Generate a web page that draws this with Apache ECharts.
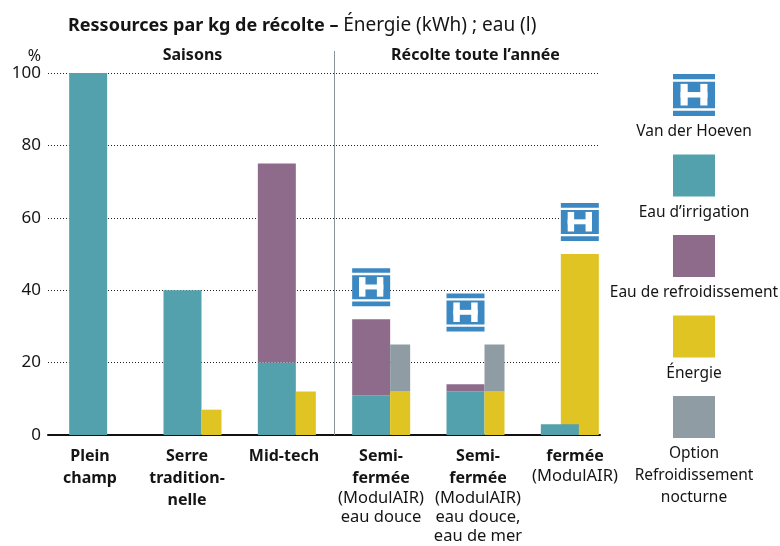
<!DOCTYPE html>
<html>
<head>
<meta charset="utf-8">
<script src="https://cdn.jsdelivr.net/npm/echarts@6/dist/echarts.min.js"></script>
<style>
  html, body { margin: 0; padding: 0; background: #fff; }
  #chart { width: 780px; height: 546px; }
</style>
</head>
<body>
<div id="chart"></div>
<script>
var chart = echarts.init(document.getElementById('chart'));

// catégories (axe X)
var categories = [
    'Plein\nchamp',
    'Serre\ntradition-\nnelle',
    'Mid-tech',
    'Semi-\nfermée\n(ModulAIR)\neau douce',
    'Semi-\nfermée\n(ModulAIR)\neau douce,\neau de mer',
    'fermée\n(ModulAIR)'
];

// valeurs en %
var irrigation = [100, 40, 20, 11, 12, 3];
var refroidissement = [0, 0, 55, 21, 2, 0];
var energie = [0, 7, 12, 12, 12, 50];
var nocturne = [0, 0, 0, 13, 13, 0];

var yMin = 0, yMax = 100, yStep = 20;

var sections = [
    { name: 'Saisons', from: 0, to: 2 },
    { name: 'Récolte toute l’année', from: 3, to: 5 }
];

// logos Van der Hoeven au-dessus de ces catégories
var logoCats = [3, 4, 5];
// catégorie où la barre énergie est large
var wideEnergyCat = 5;

var legendNames = ['Van der Hoeven', 'Eau d’irrigation', 'Eau de refroidissement', 'Énergie', 'Option\nRefroidissement\nnocturne'];

var colors = {
    teal: '#53a1ad',
    purple: '#8e6b8a',
    yellow: '#e0c424',
    grey: '#8f9ca4',
    blue: '#3b88c2',
    text: '#151515'
};
var legendColors = [null, colors.teal, colors.purple, colors.yellow, colors.grey];

var font = 'Noto Sans';

function xLabel(value) {
    var normal = false;
    return value.split('\n').map(function (l) {
        if (l.charAt(0) === '(') normal = true;
        return (normal ? '{n|' : '{b|') + l + '}';
    }).join('\n');
}

var option = {
    animation: false,
    textStyle: { fontFamily: font, color: colors.text },
    title: {
        text: '{b|Ressources par kg de récolte –} {n|Énergie (kWh) ; eau (l)}',
        left: 63,
        top: 11,
        textStyle: {
            fontWeight: 'normal',
            rich: {
                b: { fontFamily: font, fontWeight: 'bold', fontSize: 18, color: colors.text },
                n: { fontFamily: font, fontWeight: 'normal', fontSize: 19, color: colors.text }
            }
        }
    },
    grid: [
        // grille pour les lignes pointillées
        { left: 48, right: 180, top: 73, bottom: 111 },
        // grille pour les barres
        { left: 51, right: 163, top: 73, bottom: 111 },
        // grille pour les étiquettes de l'axe X
        { left: 41.5, right: 156.5, top: 73, bottom: 111 }
    ],
    xAxis: [
        {
            gridIndex: 0, type: 'value', min: 0, max: 1,
            axisLine: { show: true, lineStyle: { color: '#111', width: 2 } },
            axisTick: { show: false }, axisLabel: { show: false }, splitLine: { show: false }
        },
        {
            gridIndex: 1, type: 'category', data: categories,
            axisLine: { show: false }, axisTick: { show: false }, axisLabel: { show: false }
        },
        {
            gridIndex: 1, type: 'category', data: categories, show: false
        },
        {
            gridIndex: 2, type: 'category', data: categories,
            axisLine: { show: false }, axisTick: { show: false },
            axisLabel: {
                margin: 10, interval: 0, formatter: xLabel,
                rich: {
                    b: { fontFamily: font, fontWeight: 'bold', fontSize: 16, lineHeight: 22, color: colors.text },
                    n: { fontFamily: font, fontWeight: 'normal', fontSize: 16.5, lineHeight: 19, color: colors.text }
                }
            }
        }
    ],
    yAxis: [
        {
            gridIndex: 0, type: 'value', min: yMin, max: yMax, interval: yStep,
            name: '%', nameLocation: 'end', nameGap: 8,
            nameTextStyle: { fontFamily: font, fontSize: 16, color: colors.text, align: 'right', padding: [0, 7, 0, 0] },
            axisLine: { show: false }, axisTick: { show: false },
            axisLabel: { margin: 7, fontFamily: font, fontSize: 17, color: colors.text },
            splitLine: { lineStyle: { color: '#222', width: 1, type: [1, 2] } }
        },
        {
            gridIndex: 1, type: 'value', min: yMin, max: yMax, show: false, splitLine: { show: false }
        },
        {
            gridIndex: 2, type: 'value', min: yMin, max: yMax, show: false, splitLine: { show: false }
        }
    ],
    series: [
        {
            name: 'Eau d’irrigation', type: 'bar', xAxisIndex: 1, yAxisIndex: 1,
            stack: 'eau', barWidth: 38, barGap: '0%', z: 3,
            itemStyle: { color: colors.teal }, data: irrigation
        },
        {
            name: 'Eau de refroidissement', type: 'bar', xAxisIndex: 1, yAxisIndex: 1,
            stack: 'eau', barWidth: 38, barGap: '0%', z: 3,
            itemStyle: { color: colors.purple }, data: refroidissement
        },
        {
            name: 'Énergie', type: 'bar', xAxisIndex: 1, yAxisIndex: 1,
            stack: 'energie', barWidth: 20, barGap: '0%', z: 3,
            itemStyle: { color: colors.yellow },
            data: energie.map(function (v, i) { return i === wideEnergyCat ? '-' : v; })
        },
        {
            name: 'Option Refroidissement nocturne', type: 'bar', xAxisIndex: 1, yAxisIndex: 1,
            stack: 'energie', barWidth: 20, barGap: '0%', z: 3,
            itemStyle: { color: colors.grey }, data: nocturne
        },
        // place réservée (décalage) pour la barre large
        {
            name: 'vide', type: 'bar', xAxisIndex: 2, yAxisIndex: 1,
            barWidth: 20, barGap: '0%', silent: true,
            itemStyle: { color: 'rgba(0,0,0,0)' },
            data: energie.map(function () { return '-'; })
        },
        {
            name: 'Énergie large', type: 'bar', xAxisIndex: 2, yAxisIndex: 1,
            barWidth: 38, barGap: '0%', z: 2,
            itemStyle: { color: colors.yellow },
            data: energie.map(function (v, i) { return i === wideEnergyCat ? v : '-'; })
        }
    ]
};

chart.setOption(option);

// logo Van der Hoeven dessiné avec des rectangles
function makeLogo(x, y, s) {
    var blue = { fill: colors.blue };
    var white = { fill: '#fff' };
    return {
        type: 'group', x: x, y: y, z: 20,
        children: [
            { type: 'rect', shape: { x: 0, y: 0, width: s, height: 0.124 * s }, style: blue },
            { type: 'rect', shape: { x: 0, y: 0.184 * s, width: s, height: 0.632 * s }, style: blue },
            { type: 'rect', shape: { x: 0, y: 0.877 * s, width: s, height: 0.123 * s }, style: blue },
            { type: 'rect', shape: { x: 0.18 * s, y: 0.235 * s, width: 0.17 * s, height: 0.515 * s }, style: white },
            { type: 'rect', shape: { x: 0.65 * s, y: 0.235 * s, width: 0.17 * s, height: 0.515 * s }, style: white },
            { type: 'rect', shape: { x: 0.18 * s, y: 0.43 * s, width: 0.64 * s, height: 0.13 * s }, style: white }
        ]
    };
}

function catX(i) {
    return chart.convertToPixel({ xAxisIndex: 1, yAxisIndex: 1 }, [i, 0])[0];
}
function valY(v) {
    return chart.convertToPixel({ xAxisIndex: 1, yAxisIndex: 1 }, [0, v])[1];
}

var graphics = [];

// séparateur + titres de sections
var sepX = Math.round((catX(sections[0].to) + catX(sections[1].from)) / 2) + 0.5;
graphics.push({
    type: 'line', z: 1,
    shape: { x1: sepX, y1: 51, x2: sepX, y2: valY(0) },
    style: { stroke: '#8a949b', lineWidth: 1 }
});
sections.forEach(function (s) {
    graphics.push({
        type: 'text', x: (catX(s.from) + catX(s.to)) / 2, y: 55,
        style: {
            text: s.name, fontFamily: font, fontWeight: 'bold', fontSize: 16,
            fill: colors.text, align: 'center', verticalAlign: 'middle'
        }
    });
});

// logos au-dessus des barres
logoCats.forEach(function (i) {
    var top = Math.max(irrigation[i] + refroidissement[i], energie[i] + nocturne[i]);
    var cx = i === wideEnergyCat ? catX(i) + 10 : catX(i) - 10;
    graphics.push(makeLogo(cx - 19, valY(top) - 13 - 38, 38));
});

// légende à droite
var legX = 694, legTop = 74, legStep = 80.5, sw = 42;
legendNames.forEach(function (name, k) {
    var y0 = legTop + k * legStep;
    if (k === 0) {
        graphics.push(makeLogo(legX - sw / 2, y0, sw));
    } else {
        graphics.push({
            type: 'rect', shape: { x: legX - sw / 2, y: y0, width: sw, height: sw },
            style: { fill: legendColors[k] }
        });
    }
    graphics.push({
        type: 'text', x: legX, y: y0 + sw + 5,
        style: {
            text: name, fontFamily: font, fontSize: 15.5, lineHeight: 22,
            fill: colors.text, align: 'center', verticalAlign: 'top'
        }
    });
});

chart.setOption({ graphic: graphics });
</script>
</body>
</html>
